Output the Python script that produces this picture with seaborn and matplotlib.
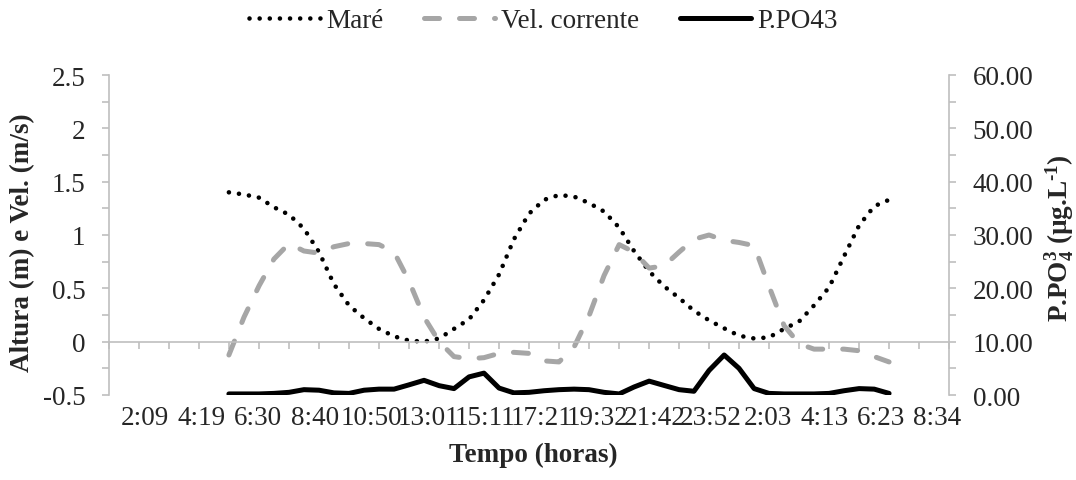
import numpy as np
import matplotlib
matplotlib.use("Agg")
import matplotlib.pyplot as plt
import seaborn as sns
from matplotlib.ticker import MultipleLocator, FuncFormatter

# tempo das leituras (horas desde 0:00 do primeiro dia)
tempo_h = [5.37, 5.95, 6.53, 7.10, 7.68, 8.25, 8.83, 9.40, 9.98, 10.56,
           11.13, 11.71, 12.28, 12.86, 13.44, 14.01, 14.59, 15.16, 15.74, 16.31,
           16.89, 17.47, 18.04, 18.62, 19.19, 19.77, 20.35, 20.92, 21.50, 22.07,
           22.65, 23.22, 23.80, 24.38, 24.95, 25.53, 26.10, 26.68, 27.26, 27.83,
           28.41, 28.98, 29.56, 30.14, 30.71]

# altura da maré (m)
mare = [1.40, 1.38, 1.35, 1.26, 1.19, 1.06, 0.84, 0.54, 0.34, 0.22,
        0.12, 0.05, 0.01, 0.00, 0.03, 0.12, 0.21, 0.39, 0.63, 0.96,
        1.20, 1.33, 1.375, 1.36, 1.30, 1.22, 1.07, 0.85, 0.66, 0.52,
        0.41, 0.29, 0.20, 0.125, 0.056, 0.03, 0.04, 0.12, 0.19, 0.34,
        0.51, 0.80, 1.09, 1.27, 1.33]

# velocidade da corrente (m/s)
vel_corrente = [-0.125, 0.23, 0.525, 0.775, 0.92, 0.85, 0.83, 0.89, 0.92, 0.92,
                0.91, 0.84, 0.57, 0.23, 0.00, -0.14, -0.16, -0.15, -0.11, -0.10,
                -0.11, -0.18, -0.19, -0.05, 0.24, 0.62, 0.91, 0.84, 0.69, 0.71,
                0.84, 0.96, 1.00, 0.95, 0.93, 0.90, 0.52, 0.15, -0.02, -0.07,
                -0.07, -0.07, -0.085, -0.14, -0.19]

# fosfato (ug/L)
p_po4 = [0.2, 0.2, 0.2, 0.3, 0.5, 1.0, 0.9, 0.4, 0.3, 0.9,
         1.1, 1.1, 1.9, 2.75, 1.75, 1.2, 3.4, 4.1, 1.3, 0.4,
         0.5, 0.8, 1.0, 1.1, 1.0, 0.5, 0.2, 1.5, 2.6, 1.8,
         1.0, 0.7, 4.6, 7.5, 5.0, 1.2, 0.3, 0.2, 0.2, 0.2,
         0.3, 0.8, 1.2, 1.1, 0.3]

rotulos_tempo = ["2:09", "4:19", "6:30", "8:40", "10:50", "13:01", "15:11", "17:21",
                 "19:32", "21:42", "23:52", "2:03", "4:13", "6:23", "8:34"]

# posicao dos rotulos em horas (com virada do dia)
rotulos_h = []
dia = 0
ultimo = -1
for r in rotulos_tempo:
    hh, mm = r.split(":")
    h = int(hh) + int(mm) / 60
    if h < ultimo:
        dia += 24
    ultimo = h
    rotulos_h.append(h + dia)

sns.set_style("white")
plt.rcParams['font.family'] = ['Liberation Serif', 'DejaVu Serif']
plt.rcParams['mathtext.fontset'] = 'custom'
plt.rcParams['mathtext.rm'] = 'Liberation Serif:bold'
plt.rcParams['mathtext.bf'] = 'Liberation Serif:bold'
plt.rcParams['mathtext.it'] = 'Liberation Serif:bold'
plt.rcParams['axes.unicode_minus'] = False

fs = 19.5
cinza = '#BFBFBF'

fig = plt.figure(figsize=(10.76, 4.81), dpi=100)
ax = fig.add_axes([109 / 1076, 1 - 396 / 481, 840 / 1076, (396 - 76) / 481])
ax2 = ax.twinx()

sns.lineplot(x=tempo_h, y=mare, ax=ax, color='black', lw=3.3,
             linestyle=(0, (0.01, 2.2)), dash_capstyle='round', label='Maré', legend=False)
sns.lineplot(x=tempo_h, y=vel_corrente, ax=ax, color='#A6A6A6', lw=3.6,
             linestyle=(0, (3, 4)), dash_capstyle='round', label='Vel. corrente', legend=False)
sns.lineplot(x=tempo_h, y=p_po4, ax=ax2, color='black', lw=3.6,
             solid_capstyle='round', solid_joinstyle='round', label='P.PO43', legend=False)

xmin, xmax = 0.768, 33.01
ax.set_xlim(xmin, xmax)
ax.set_ylim(-0.5, 2.5)
ax2.set_ylim(0, 60)

# eixo x cruzando em y = 0, com marcas pequenas
ax.spines['bottom'].set_position(('data', 0))
ax.set_xticks(np.linspace(xmin, xmax, 29))
ax.set_xticklabels([])
ax.tick_params(axis='x', bottom=True, direction='out', length=5, width=1.2, color=cinza)

sec = ax.secondary_xaxis('bottom')
sec.set_xticks(rotulos_h, labels=rotulos_tempo)
sec.tick_params(length=0, pad=7, labelsize=fs)
sec.spines['bottom'].set_visible(False)

ax.yaxis.set_major_locator(MultipleLocator(0.5))
ax.yaxis.set_minor_locator(MultipleLocator(0.25))
ax.yaxis.set_major_formatter(FuncFormatter(lambda v, p: f"{v:g}"))
ax.tick_params(axis='y', which='both', left=True, direction='out', length=5, width=1.2,
               color=cinza, labelsize=fs, pad=12)

ax2.yaxis.set_major_locator(MultipleLocator(10))
ax2.yaxis.set_minor_locator(MultipleLocator(5))
ax2.yaxis.set_major_formatter(FuncFormatter(lambda v, p: f"{v:.2f}"))
ax2.tick_params(axis='y', which='both', right=True, direction='out', length=5, width=1.2,
                color=cinza, labelsize=fs, pad=12)

for s in ['top', 'right']:
    ax.spines[s].set_visible(False)
for s in ['top', 'left', 'bottom']:
    ax2.spines[s].set_visible(False)
ax.spines['left'].set_color(cinza)
ax.spines['bottom'].set_color(cinza)
ax2.spines['right'].set_color(cinza)
for s in [ax.spines['left'], ax.spines['bottom'], ax2.spines['right']]:
    s.set_linewidth(1.2)
ax.grid(False)
ax2.grid(False)

fig.text(23 / 1076, 1 - 243 / 481, "Altura (m) e Vel. (m/s)", rotation=90,
         ha='center', va='center', fontsize=fs, fontweight='bold')
fig.text(1060 / 1076, 1 - 238 / 481,
         r"P.PO$_{4}^{3}$ (µg.L$^{\text{-1}}$)", rotation=90,
         ha='center', va='center', fontsize=fs, fontweight='bold')
fig.text(533 / 1076, 1 - 455 / 481, "Tempo (horas)", ha='center', va='center',
         fontsize=fs, fontweight='bold')

h1, l1 = ax.get_legend_handles_labels()
h2, l2 = ax2.get_legend_handles_labels()
fig.legend(h1 + h2, l1 + l2, loc='center', bbox_to_anchor=(0.505, 1 - 22 / 481),
           ncol=3, frameon=False, fontsize=fs, handlelength=2.6,
           handletextpad=0.25, columnspacing=1.5)

fig.savefig("out.png", dpi=100)
